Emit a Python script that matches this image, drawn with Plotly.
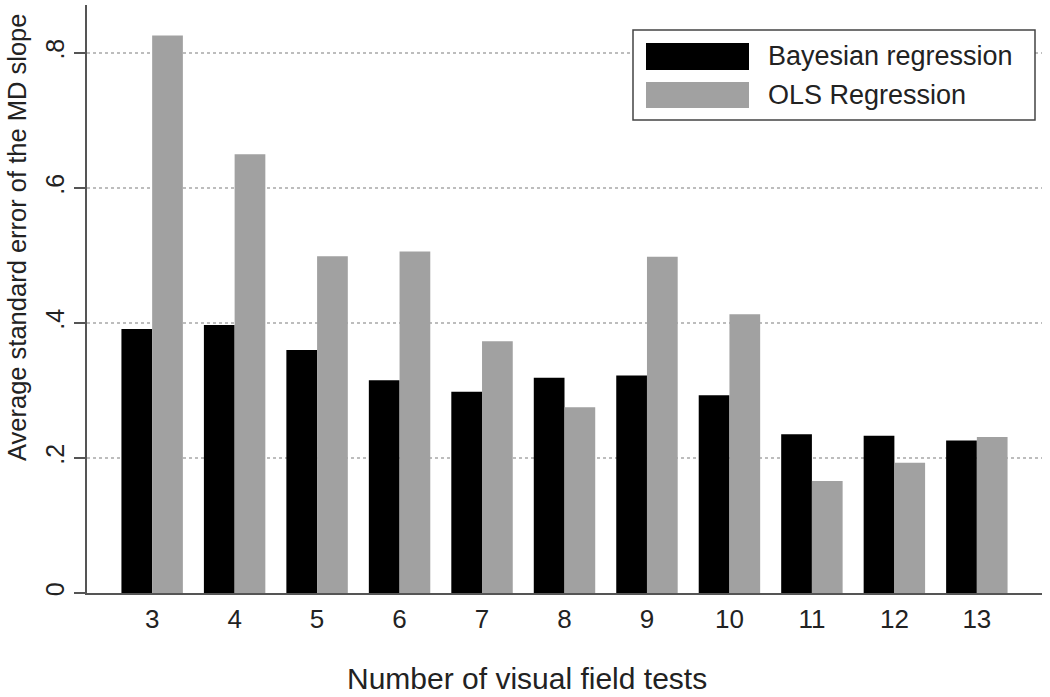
import plotly.graph_objects as go

# ---- data ----
n_tests = [3, 4, 5, 6, 7, 8, 9, 10, 11, 12, 13]
bayesian = [0.391, 0.397, 0.360, 0.315, 0.298, 0.319, 0.322, 0.293, 0.235, 0.233, 0.226]
ols = [0.826, 0.650, 0.499, 0.506, 0.373, 0.275, 0.498, 0.413, 0.166, 0.193, 0.231]
series_names = ["Bayesian regression", "OLS Regression"]
y_tick_vals = [0, 0.2, 0.4, 0.6, 0.8]
y_tick_text = ["0", ".2", ".4", ".6", ".8"]
x_title = "Number of visual field tests"
y_title = "Average standard error of the MD slope"

# ---- layout geometry (pixels) ----
W, H = 1050, 697
L, R, T, B = 87, 8, 5, 104
PW, PH = W - L - R, H - T - B

def px(x):
    return (x - L) / PW

def py(y):
    return (H - B - y) / PH

FONT = "Liberation Sans, Arial, sans-serif"
C_BLACK = "#000000"
C_GRAY = "#a1a1a1"
TXT = "#222222"

fig = go.Figure()
fig.add_trace(go.Bar(x=n_tests, y=bayesian, name=series_names[0],
                     marker=dict(color=C_BLACK, line=dict(width=0)), showlegend=False))
fig.add_trace(go.Bar(x=n_tests, y=ols, name=series_names[1],
                     marker=dict(color=C_GRAY, line=dict(width=0)), showlegend=False))

fig.update_layout(
    width=W, height=H,
    margin=dict(l=L, r=R, t=T, b=B, autoexpand=False),
    paper_bgcolor="white", plot_bgcolor="white",
    barmode="group", bargap=0.255, bargroupgap=0,
    font=dict(family=FONT, color=TXT),
    xaxis=dict(
        range=[2.21, 13.79], tickvals=n_tests, ticktext=[str(v) for v in n_tests],
        showgrid=False, zeroline=False,
        showline=True, linecolor="#555555", linewidth=1.5,
        ticks="outside", ticklen=2, tickcolor="rgba(0,0,0,0)",
        tickfont=dict(size=26, family=FONT, color=TXT),
    ),
    yaxis=dict(
        range=[0, 0.871], tickvals=y_tick_vals, ticktext=y_tick_text,
        tickangle=-90,
        showgrid=True, gridcolor="#bdbdbd", griddash="dot", gridwidth=1.5,
        zeroline=False,
        showline=True, linecolor="#555555", linewidth=1.5,
        ticks="outside", ticklen=11, tickwidth=1.5, tickcolor="#555555",
        tickfont=dict(size=25, family=FONT, color=TXT),
    ),
)

# axis titles
fig.add_annotation(text=x_title, xref="paper", yref="paper",
                   x=px(527), y=py(678), xanchor="center", yanchor="middle",
                   showarrow=False, font=dict(size=30, family=FONT, color=TXT))
fig.add_annotation(text=y_title, xref="paper", yref="paper",
                   x=px(17), y=py(238), xanchor="center", yanchor="middle",
                   textangle=-90, showarrow=False,
                   font=dict(size=25.5, family=FONT, color=TXT))

# custom legend (box + swatches + labels)
fig.add_shape(type="rect", xref="paper", yref="paper",
              x0=px(633), x1=px(1035), y0=py(120), y1=py(30),
              fillcolor="white", line=dict(color="#444444", width=1.5), layer="above")
swatches = [(C_BLACK, 43, 70, 56), (C_GRAY, 82, 108, 95)]
for (col, y0, y1, yc), name in zip(swatches, series_names):
    fig.add_shape(type="rect", xref="paper", yref="paper",
                  x0=px(646), x1=px(749), y0=py(y1), y1=py(y0),
                  fillcolor=col, line=dict(width=0), layer="above")
    fig.add_annotation(text=name, xref="paper", yref="paper",
                       x=px(766), y=py(yc), xanchor="left", yanchor="middle",
                       showarrow=False, font=dict(size=27, family=FONT, color=TXT))

fig.write_html("out.html", config={"displayModeBar": False},
               post_script="document.body.style.margin='0';document.body.style.overflow='hidden';")
